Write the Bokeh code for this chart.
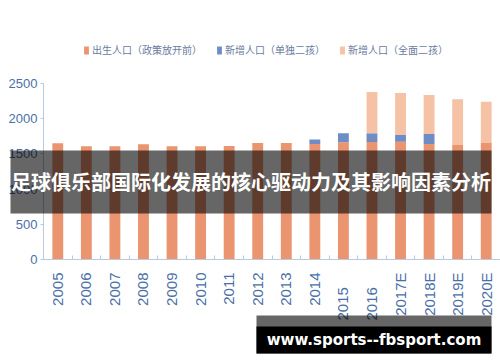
from bokeh.plotting import figure
from bokeh.models import (Range1d, Legend, LegendItem, LabelSet, LinearAxis,
                          FixedTicker, Label, BoxAnnotation, ColumnDataSource)
from bokeh.core.properties import value, field
from bokeh.embed import file_html
from bokeh.resources import INLINE

categories = ["2005", "2006", "2007", "2008", "2009", "2010", "2011", "2012",
              "2013", "2014", "2015", "2016", "2017E", "2018E", "2019E", "2020E"]
births_before = [1650, 1608, 1608, 1636, 1608, 1608, 1613, 1656,
                 1656, 1642, 1664, 1670, 1674, 1642, 1628, 1656]
added_single = [0, 0, 0, 0, 0, 0, 0, 0,
                0, 61, 128, 122, 96, 139, 0, 0]
added_universal = [0, 0, 0, 0, 0, 0, 0, 0,
                   0, 0, 0, 588, 595, 556, 650, 586]
series_names = ["出生人口（政策放开前）", "新增人口（单独二孩）", "新增人口（全面二孩）"]
y_ticks = [0, 500, 1000, 1500, 2000, 2500]
banner_text = "足球俱乐部国际化发展的核心驱动力及其影响因素分析"
watermark_text = "www.sports--fbsport.com"

colors = ["#ea9470", "#6f8dc4", "#f6c2a6"]
axis_color = "#b8c9e1"
tick_text_color = "#4a6fa8"

W, H = 500, 362
n = len(categories)
pos = [i + 0.5 for i in range(n)]           # category centres on the x scale

source = ColumnDataSource(dict(x=pos, cat=categories, b=births_before,
                               s=added_single, u=added_universal))

# frame covers the whole canvas; axes are pinned inside it
plot_left, plot_right, y0_px, y_top_px = 43, 500, 259, 83
cat_px = (plot_right - plot_left) / n
units_per_px = 2500 / (y0_px - y_top_px)
p = figure(width=W, height=H,
           x_range=Range1d(-plot_left / cat_px, (W - plot_left) / cat_px),
           y_range=Range1d(-(H - y0_px) * units_per_px, y0_px * units_per_px),
           x_axis_type=None, y_axis_type=None,
           output_backend="svg", toolbar_location=None,
           min_border_left=0, min_border_right=0,
           min_border_top=0, min_border_bottom=0)
p.outline_line_color = None
p.grid.visible = False
p.background_fill_color = "white"
p.border_fill_color = "white"

renderers = p.vbar_stack(["b", "s", "u"], x="x", width=0.38, color=colors,
                         line_color=None, source=source)

# y axis
yaxis = LinearAxis(fixed_location=0, bounds=(0, 2500), ticker=FixedTicker(ticks=y_ticks),
                   axis_line_color=axis_color, major_tick_line_color=axis_color,
                   major_tick_out=3, major_tick_in=0, minor_tick_line_color=None,
                   major_label_standoff=3,
                   major_label_text_font="Liberation Sans",
                   major_label_text_font_size="13px",
                   major_label_text_color=tick_text_color)
p.add_layout(yaxis, "left")

# x axis: line with small inward ticks at category boundaries
xaxis = LinearAxis(fixed_location=0, bounds=(0, n),
                   ticker=FixedTicker(ticks=list(range(1, n))),
                   axis_line_color=axis_color, major_tick_line_color=axis_color,
                   major_tick_in=4, major_tick_out=0, minor_tick_line_color=None,
                   major_label_text_color=None, major_label_text_font_size="1px")
p.add_layout(xaxis, "below")

# category labels, vertical (2015/2016 sit lower, as in the source image)
low_labels = {"2015", "2016"}
lab_src = ColumnDataSource(dict(
    x=pos, cat=categories,
    y=[42 if c in low_labels else 90 for c in categories],
    align=["left" if c in low_labels else "right" for c in categories],
))
xlabels = LabelSet(x="x", y="y", y_units="screen", text="cat", source=lab_src,
                   angle=1.5708, text_align=field("align"), text_baseline="middle",
                   text_font=value("Liberation Sans"), text_font_size="15px",
                   text_color=tick_text_color)
p.add_layout(xlabels)

# legend
legend = Legend(items=[LegendItem(label=nm, renderers=[r])
                       for nm, r in zip(series_names, renderers)],
                orientation="horizontal", location=(83, 305),
                glyph_width=6, glyph_height=10, label_standoff=3, spacing=14,
                padding=0, margin=0, border_line_color=None,
                background_fill_alpha=0,
                label_text_font="Noto Sans CJK SC", label_text_font_size="10px",
                label_text_color="#6b7ba0")
p.add_layout(legend)

# banner overlay
p.add_layout(BoxAnnotation(left=10, right=491, bottom=149, top=212,
                           left_units="screen", right_units="screen",
                           bottom_units="screen", top_units="screen",
                           fill_color="black", fill_alpha=0.6, line_color=None,
                           level="overlay"))
p.add_layout(Label(x=250.5, y=181, x_units="screen", y_units="screen",
                   text=banner_text, text_align="center", text_baseline="middle",
                   text_font="Noto Sans CJK SC", text_font_style="bold",
                   text_font_size="20px", text_color="white", level="overlay"))

# watermark
p.add_layout(BoxAnnotation(left=256, right=491, bottom=9, top=47,
                           left_units="screen", right_units="screen",
                           bottom_units="screen", top_units="screen",
                           fill_color="black", fill_alpha=0.6, line_color=None,
                           level="overlay"))
p.add_layout(BoxAnnotation(left=256, right=491, bottom=9, top=36,
                           left_units="screen", right_units="screen",
                           bottom_units="screen", top_units="screen",
                           fill_color="black", fill_alpha=1.0, line_color=None,
                           level="overlay"))
p.add_layout(Label(x=373.5, y=23, x_units="screen", y_units="screen",
                   text=watermark_text, text_align="center", text_baseline="middle",
                   text_font="DejaVu Sans", text_font_style="bold",
                   text_font_size="15px", text_color="white", level="overlay"))

open("out.html", "w").write(file_html(p, INLINE))
